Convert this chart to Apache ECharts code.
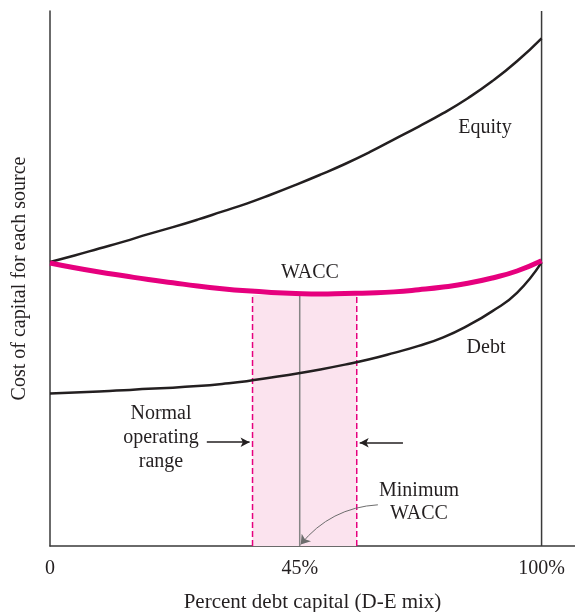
<!DOCTYPE html>
<html>
<head>
<meta charset="utf-8">
<script src="https://cdn.jsdelivr.net/npm/echarts@6/dist/echarts.min.js"></script>
<style>
html,body{margin:0;padding:0;background:#fff;}
#chart{width:575px;height:612px;}
</style>
</head>
<body>
<div id="chart"></div>
<script>
// ---- data (x = position along debt-capital axis, y = relative cost of capital) ----
const curveX  = [0, 5, 10, 15, 20, 25, 30, 35, 40, 45, 50, 55, 60, 65, 70, 75, 80, 85, 90, 95, 100];
const equityY = [53.1, 54.3, 55.6, 56.9, 58.3, 59.6, 61.0, 62.5, 64.0, 65.7, 67.5, 69.4, 71.4, 73.6, 76.0, 78.4, 80.9, 83.7, 86.9, 90.6, 94.9];
const debtY   = [28.5, 28.7, 28.9, 29.1, 29.4, 29.6, 29.9, 30.3, 30.8, 31.5, 32.2, 33.0, 33.9, 34.9, 36.1, 37.4, 39.0, 41.2, 43.9, 47.3, 53.0];
const waccY   = [52.9, 52.0, 51.2, 50.5, 49.8, 49.2, 48.6, 48.1, 47.7, 47.4, 47.2, 47.1, 47.2, 47.3, 47.5, 47.9, 48.4, 49.1, 50.1, 51.4, 53.3];

const rangeLow = 41.2, rangeHigh = 62.4, rangeTop = 46.9;   // normal operating range
const minWaccX = 50.8, minWaccY = 47.1;                      // minimum WACC point
const xTickValues = [0, 50.8, 100];
const xTickLabels = ['0', '45%', '100%'];

const toPairs = (xs, ys) => xs.map((x, i) => [x, ys[i]]);

const INK = '#231f20';
const MAGENTA = '#e6007e';
const FONT = 'Liberation Serif';

const chart = echarts.init(document.getElementById('chart'), null, {renderer: 'canvas'});

const lineBase = {type: 'line', symbol: 'none', silent: true, animation: false};

const option = {
  animation: false,
  grid: {left: 50, right: 0, top: 11, bottom: 66, containLabel: false, outerBoundsMode: 'none'},
  xAxis: {
    type: 'value', min: 0, max: 106.8,
    name: 'Percent debt capital (D-E mix)',
    nameLocation: 'middle', nameGap: 46,
    nameTextStyle: {fontFamily: FONT, fontSize: 21, color: INK},
    axisLine: {show: true, lineStyle: {color: '#3a3a3a', width: 1.5}},
    axisTick: {show: false},
    splitLine: {show: false},
    axisLabel: {
      customValues: xTickValues,
      formatter: v => { const i = xTickValues.indexOf(v); return i >= 0 ? xTickLabels[i] : ''; },
      fontFamily: FONT, fontSize: 20, color: INK, margin: 13
    }
  },
  yAxis: {
    type: 'value', min: 0, max: 100,
    name: 'Cost of capital for each source',
    nameLocation: 'middle', nameGap: 20,
    nameTextStyle: {fontFamily: FONT, fontSize: 20, color: INK},
    axisLine: {show: true, lineStyle: {color: '#3a3a3a', width: 1.5}},
    axisTick: {show: false},
    axisLabel: {show: false},
    splitLine: {show: false}
  },
  series: [
    // operating range band
    Object.assign({}, lineBase, {
      data: [[rangeLow, rangeTop], [rangeHigh, rangeTop]],
      lineStyle: {width: 0, opacity: 0},
      areaStyle: {color: '#fbe3ee', opacity: 1, origin: 'start'},
      z: 1
    }),
    Object.assign({}, lineBase, {
      data: [[rangeLow, 0], [rangeLow, rangeTop]],
      lineStyle: {color: MAGENTA, width: 1.5, type: [6, 3]}, z: 2
    }),
    Object.assign({}, lineBase, {
      data: [[rangeHigh, 0], [rangeHigh, rangeTop]],
      lineStyle: {color: MAGENTA, width: 1.5, type: [6, 3]}, z: 2
    }),
    // minimum WACC vertical
    Object.assign({}, lineBase, {
      data: [[minWaccX, 0], [minWaccX, minWaccY]],
      lineStyle: {color: '#858585', width: 1.5}, z: 3
    }),
    // curved pointer from "Minimum WACC" label to the axis
    {
      type: 'lines', coordinateSystem: 'cartesian2d', silent: true, animation: false,
      symbol: ['none', 'arrow'], symbolSize: [6, 9],
      lineStyle: {color: '#6d6d6d', width: 1, curveness: -0.22, opacity: 1},
      data: [{coords: [[66.7, 7.7], [51.0, 0.3]]}],
      z: 6
    },
    // 100% boundary + horizontal arrows
    Object.assign({}, lineBase, {
      data: [[100, 0], [100, 100]],
      lineStyle: {color: '#3a3a3a', width: 1.5}, z: 3,
      markLine: {
        silent: true, animation: false,
        symbol: ['none', 'arrow'], symbolSize: [7, 9],
        label: {show: false},
        lineStyle: {color: INK, width: 1.5, type: 'solid'},
        data: [
          [{coord: [31.9, 19.4]}, {coord: [40.6, 19.4]}],
          [{coord: [71.8, 19.3]}, {coord: [63.0, 19.3]}]
        ]
      }
    }),
    Object.assign({}, lineBase, {
      name: 'Equity', data: toPairs(curveX, equityY), smooth: true,
      lineStyle: {color: INK, width: 2.5}, z: 4
    }),
    Object.assign({}, lineBase, {
      name: 'Debt', data: toPairs(curveX, debtY), smooth: true,
      lineStyle: {color: INK, width: 2.5}, z: 4
    }),
    Object.assign({}, lineBase, {
      name: 'WACC', data: toPairs(curveX, waccY), smooth: true,
      lineStyle: {color: MAGENTA, width: 5}, z: 5
    })
  ],
  graphic: [
    {type: 'text', x: 485, y: 128, z: 10, style: {text: 'Equity', font: '20px "Liberation Serif"', fill: INK, textAlign: 'center', textVerticalAlign: 'middle'}},
    {type: 'text', x: 310, y: 273, z: 10, style: {text: 'WACC', font: '20px "Liberation Serif"', fill: INK, textAlign: 'center', textVerticalAlign: 'middle'}},
    {type: 'text', x: 486, y: 348, z: 10, style: {text: 'Debt', font: '20px "Liberation Serif"', fill: INK, textAlign: 'center', textVerticalAlign: 'middle'}},
    {type: 'text', x: 161, y: 438, z: 10, style: {text: 'Normal\noperating\nrange', font: '20px "Liberation Serif"', lineHeight: 24, fill: INK, textAlign: 'center', textVerticalAlign: 'middle'}},
    {type: 'text', x: 419, y: 502, z: 10, style: {text: 'Minimum\nWACC', font: '20px "Liberation Serif"', lineHeight: 23, fill: INK, textAlign: 'center', textVerticalAlign: 'middle'}}
  ]
};
chart.setOption(option);
</script>
</body>
</html>
